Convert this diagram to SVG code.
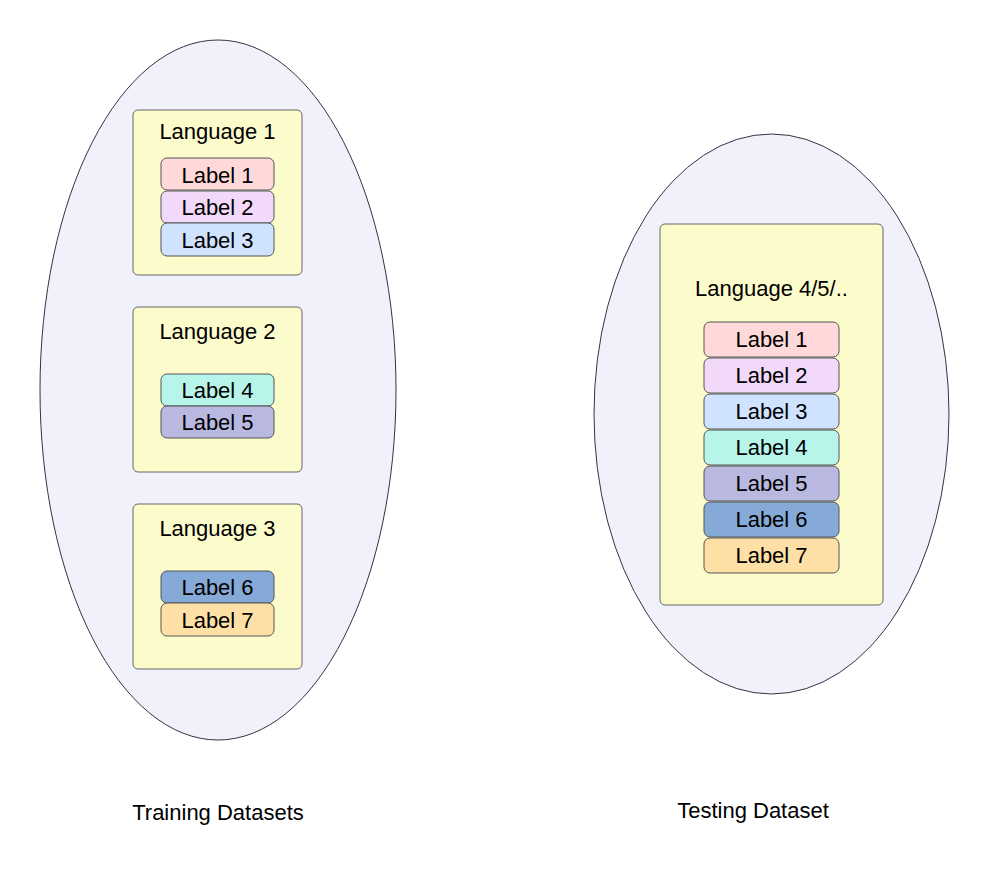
<svg xmlns="http://www.w3.org/2000/svg" width="989" height="886" viewBox="0 0 989 886">
<style>
.ell{fill:#f1f1fc;stroke:#333344;stroke-width:1}
.box{fill:#fcfbcb;stroke:#666;stroke-width:1}
.lab{stroke:#555;stroke-width:1}
text{font-family:"Liberation Sans",Arial,sans-serif;font-size:22px;fill:#000;text-anchor:middle;dominant-baseline:central}
.c1{fill:#ffd9d9}.c2{fill:#f2d8f9}.c3{fill:#cfe3fe}.c4{fill:#b7f4ea}.c5{fill:#b8b8e1}.c6{fill:#86aad7}.c7{fill:#fedfa6}
</style>
<rect width="989" height="886" fill="#fff"/>
<g id="training">
<ellipse class="ell" cx="218" cy="390" rx="178" ry="350"/>
<text x="218" y="812">Training Datasets</text>
</g>
<g id="testing">
<ellipse class="ell" cx="771.5" cy="414" rx="177.5" ry="280"/>
<text x="753" y="810">Testing Dataset</text>
</g>
<g id="lang1">
<rect class="box" x="133" y="110" width="169" height="165" rx="5"/>
<text x="217.5" y="131">Language 1</text>
<rect class="lab c1" x="161" y="158" width="113" height="32" rx="6"/><text x="217.5" y="175">Label 1</text>
<rect class="lab c2" x="161" y="191" width="113" height="32" rx="6"/><text x="217.5" y="207">Label 2</text>
<rect class="lab c3" x="161" y="223" width="113" height="33" rx="6"/><text x="217.5" y="240">Label 3</text>
</g>
<g id="lang2">
<rect class="box" x="133" y="307" width="169" height="165" rx="5"/>
<text x="217.5" y="331">Language 2</text>
<rect class="lab c4" x="161" y="374" width="113" height="32" rx="6"/><text x="217.5" y="390">Label 4</text>
<rect class="lab c5" x="161" y="406" width="113" height="32" rx="6"/><text x="217.5" y="422">Label 5</text>
</g>
<g id="lang3">
<rect class="box" x="133" y="504" width="169" height="165" rx="5"/>
<text x="217.5" y="528">Language 3</text>
<rect class="lab c6" x="161" y="571" width="113" height="32" rx="6"/><text x="217.5" y="587">Label 6</text>
<rect class="lab c7" x="161" y="603" width="113" height="33" rx="6"/><text x="217.5" y="620">Label 7</text>
</g>
<g id="lang4">
<rect class="box" x="660" y="224" width="223" height="381" rx="5"/>
<text x="771.5" y="288">Language 4/5/..</text>
<rect class="lab c1" x="704" y="322" width="135" height="35" rx="6"/><text x="771.5" y="339">Label 1</text>
<rect class="lab c2" x="704" y="358" width="135" height="35" rx="6"/><text x="771.5" y="375">Label 2</text>
<rect class="lab c3" x="704" y="394" width="135" height="35" rx="6"/><text x="771.5" y="411">Label 3</text>
<rect class="lab c4" x="704" y="430" width="135" height="35" rx="6"/><text x="771.5" y="447">Label 4</text>
<rect class="lab c5" x="704" y="466" width="135" height="35" rx="6"/><text x="771.5" y="483">Label 5</text>
<rect class="lab c6" x="704" y="502" width="135" height="35" rx="6"/><text x="771.5" y="519">Label 6</text>
<rect class="lab c7" x="704" y="538" width="135" height="35" rx="6"/><text x="771.5" y="555">Label 7</text>
</g>
<g id="connectors"></g>
</svg>
